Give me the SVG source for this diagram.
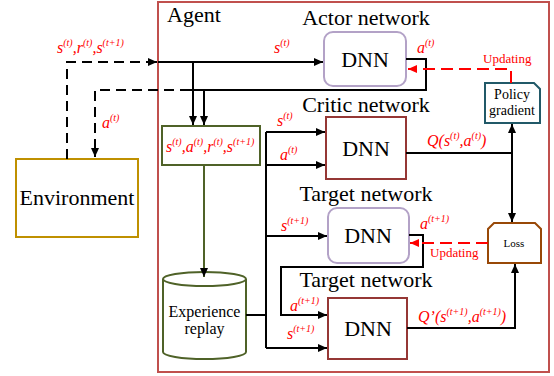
<svg xmlns="http://www.w3.org/2000/svg" width="554" height="376" viewBox="0 0 554 376">
<style>
.t{font-family:"Liberation Serif","Times New Roman",serif;fill:#000}
.big{font-size:22px}
.lbl{font-family:"Liberation Serif","Times New Roman",serif;font-style:italic;font-size:16px;fill:#ff0000}
.sup{font-size:10px}
.upd{font-family:"Liberation Serif","Times New Roman",serif;font-size:13px;fill:#ff0000}
.ln{fill:none;stroke:#000;stroke-width:2}
.dash{fill:none;stroke:#000;stroke-width:2;stroke-dasharray:10,6}
.rdash{fill:none;stroke:#ff0000;stroke-width:2;stroke-dasharray:12,6}
</style>
<defs>
<marker id="ah" markerUnits="userSpaceOnUse" markerWidth="9" markerHeight="8" refX="9" refY="4" orient="auto-start-reverse"><path d="M0,0 L9,4 L0,8 z" fill="#000"/></marker>
<marker id="rah" markerUnits="userSpaceOnUse" markerWidth="9" markerHeight="8" refX="9" refY="4" orient="auto"><path d="M0,0 L9,4 L0,8 z" fill="#ff0000"/></marker>
</defs>
<rect width="554" height="376" fill="#fff"/>

<g id="agent">
<rect x="158" y="2" width="391" height="370" fill="none" stroke="#c0504d" stroke-width="2"/>
<text class="t big" x="167" y="22">Agent</text>
</g>

<g id="environment">
<rect x="16" y="159" width="122" height="78" fill="#fff" stroke="#bf9000" stroke-width="2"/>
<text class="t big" x="77" y="205" text-anchor="middle">Environment</text>
</g>

<g id="actor">
<text class="t big" x="366" y="25" text-anchor="middle">Actor network</text>
<rect x="324" y="32" width="82" height="54" rx="9" fill="#fff" stroke="#b3a2c7" stroke-width="2"/>
<text class="t big" x="365" y="67" text-anchor="middle">DNN</text>
</g>

<g id="critic">
<text class="t big" x="366" y="112" text-anchor="middle">Critic network</text>
<rect x="326" y="117" width="80" height="62" fill="#fff" stroke="#953735" stroke-width="2"/>
<text class="t big" x="366" y="156" text-anchor="middle">DNN</text>
</g>

<g id="target1">
<text class="t big" x="366" y="201" text-anchor="middle">Target network</text>
<rect x="328" y="208" width="81" height="55" rx="9" fill="#fff" stroke="#b3a2c7" stroke-width="2"/>
<text class="t big" x="368" y="243" text-anchor="middle">DNN</text>
</g>

<g id="target2">
<text class="t big" x="366" y="287" text-anchor="middle">Target network</text>
<rect x="328" y="298" width="79" height="61" fill="#fff" stroke="#953735" stroke-width="2"/>
<text class="t big" x="368" y="336" text-anchor="middle">DNN</text>
</g>

<g id="sample">
<rect x="162" y="126" width="98" height="39" fill="#fff" stroke="#4f6228" stroke-width="2"/>
<text class="lbl" x="166" y="152">s<tspan class="sup" dy="-7">(t)</tspan><tspan dy="7">,a</tspan><tspan class="sup" dy="-7">(t)</tspan><tspan dy="7">,r</tspan><tspan class="sup" dy="-7">(t)</tspan><tspan dy="7">,s</tspan><tspan class="sup" dy="-7">(t+1)</tspan></text>
</g>

<g id="replay">
<path d="M163,279 V352 A41.5,7 0 0 0 246,352 V279" fill="#fff" stroke="#4f6228" stroke-width="2"/>
<ellipse cx="204.5" cy="279" rx="41.5" ry="7" fill="#fff" stroke="#4f6228" stroke-width="2"/>
<text class="t" x="204.5" y="317" font-size="16" text-anchor="middle">Experience</text>
<text class="t" x="204.5" y="334" font-size="16" text-anchor="middle">replay</text>
</g>

<g id="policy">
<path d="M485,83 H534 L540,89 V123 H485 Z" fill="#fff" stroke="#215968" stroke-width="2"/>
<text class="t" x="512" y="99" font-size="14" text-anchor="middle">Policy</text>
<text class="t" x="512" y="115" font-size="14" text-anchor="middle">gradient</text>
</g>

<g id="loss">
<path d="M494,223 H535 L541,229 V263 H488 V229 Z" fill="#fff" stroke="#984807" stroke-width="2"/>
<text class="t" x="514" y="247" font-size="11" text-anchor="middle">Loss</text>
</g>

<g id="connectors">
<!-- environment to agent -->
<path class="dash" d="M67,159 V62 H156"/>
<path class="ln" d="M148,62 H157" marker-end="url(#ah)"/>
<path class="ln" d="M158,62 H323" marker-end="url(#ah)"/>
<path class="ln" d="M193,62 V125" marker-end="url(#ah)"/>
<!-- actor output -->
<path class="ln" d="M406,59 H426 V90 H190"/>
<path class="dash" d="M190,90 H95 V157" marker-end="url(#ah)"/>
<path class="ln" d="M204,90 V125" marker-end="url(#ah)"/>
<!-- sample to replay -->
<path d="M204,165 V277" fill="none" stroke="#4f6228" stroke-width="2" marker-end="url(#ah)"/>
<!-- replay outputs -->
<path class="ln" d="M246,315 H266"/>
<path class="ln" d="M266,132 V348"/>
<path class="ln" d="M266,132 H325" marker-end="url(#ah)"/>
<path class="ln" d="M266,165 H325" marker-end="url(#ah)"/>
<path class="ln" d="M266,236 H327" marker-end="url(#ah)"/>
<path class="ln" d="M266,348 H327" marker-end="url(#ah)"/>
<!-- target1 output to target2 -->
<path class="ln" d="M409,235 H423 V267 H281 V315 H327" marker-end="url(#ah)"/>
<!-- critic output -->
<path class="ln" d="M406,153 H512"/>
<path class="ln" d="M512,124 V222" marker-start="url(#ah)" marker-end="url(#ah)"/>
<!-- target2 output -->
<path class="ln" d="M407,328 H515 V264" marker-end="url(#ah)"/>
<!-- updating -->
<path class="rdash" d="M511,83 V69 H408" marker-end="url(#rah)"/>
<path class="rdash" d="M488,243 H410" marker-end="url(#rah)"/>
</g>

<g id="labels">
<text class="lbl" x="57" y="53">s<tspan class="sup" dy="-7">(t)</tspan><tspan dy="7">,r</tspan><tspan class="sup" dy="-7">(t)</tspan><tspan dy="7">,s</tspan><tspan class="sup" dy="-7">(t+1)</tspan></text>
<text class="lbl" x="102" y="128">a<tspan class="sup" dy="-7">(t)</tspan></text>
<text class="lbl" x="274" y="53">s<tspan class="sup" dy="-7">(t)</tspan></text>
<text class="lbl" x="417" y="53">a<tspan class="sup" dy="-7">(t)</tspan></text>
<text class="lbl" x="277" y="126">s<tspan class="sup" dy="-7">(t)</tspan></text>
<text class="lbl" x="280" y="160">a<tspan class="sup" dy="-7">(t)</tspan></text>
<text class="lbl" x="281" y="231">s<tspan class="sup" dy="-7">(t+1)</tspan></text>
<text class="lbl" x="420" y="229">a<tspan class="sup" dy="-7">(t+1)</tspan></text>
<text class="lbl" x="290" y="311">a<tspan class="sup" dy="-7">(t+1)</tspan></text>
<text class="lbl" x="287" y="339">s<tspan class="sup" dy="-7">(t+1)</tspan></text>
<text class="lbl" x="427" y="146">Q(s<tspan class="sup" dy="-7">(t)</tspan><tspan dy="7">,a</tspan><tspan class="sup" dy="-7">(t)</tspan><tspan dy="7">)</tspan></text>
<text class="lbl" x="418" y="322">Q’(s<tspan class="sup" dy="-7">(t+1)</tspan><tspan dy="7">,a</tspan><tspan class="sup" dy="-7">(t+1)</tspan><tspan dy="7">)</tspan></text>
<text class="upd" x="483" y="63">Updating</text>
<text class="upd" x="430" y="257">Updating</text>
</g>
</svg>
